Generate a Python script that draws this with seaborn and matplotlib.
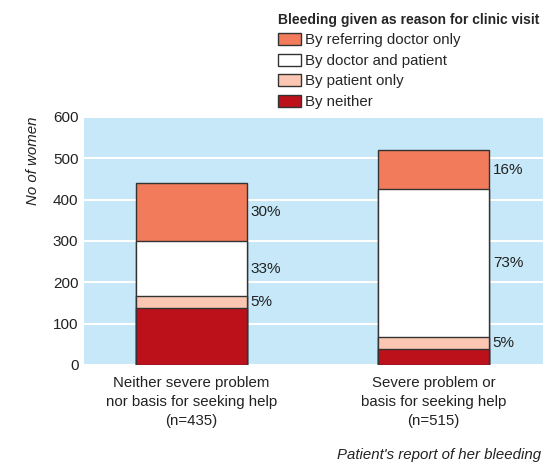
import matplotlib
matplotlib.use("Agg")
import matplotlib.pyplot as plt
import seaborn as sns
import pandas as pd
import numpy as np
from matplotlib.patches import Patch

sns.set_style("white")
plt.rcParams['font.family'] = ['Liberation Sans', 'DejaVu Sans']

categories = ["Neither severe problem\nnor basis for seeking help\n(n=435)",
              "Severe problem or\nbasis for seeking help\n(n=515)"]
series_names = ["By neither", "By patient only", "By doctor and patient", "By referring doctor only"]
by_neither = [137, 39]
by_patient = [29, 29]
by_both = [134, 358]
by_doctor = [141, 93]
pct_labels = [["", "5%", "33%", "30%"], ["", "5%", "73%", "16%"]]
colors = ["#bc111b", "#fcc7b2", "#ffffff", "#f27b5b"]

layers = [by_neither, by_patient, by_both, by_doctor]
cum = np.cumsum(np.array(layers), axis=0)

FS = 10.5
fig = plt.figure(figsize=(5.43, 4.63), dpi=100)
ax = fig.add_axes([84/543, 1-365/463, 1-84/543, (365-117)/463])
ax.set_facecolor("#c6e8f8")

for i in range(3, -1, -1):
    df = pd.DataFrame({"cat": categories, "val": cum[i]})
    sns.barplot(data=df, x="cat", y="val", color=colors[i], saturation=1,
                width=0.459, edgecolor="#333333", linewidth=1.0, ax=ax, zorder=3)

for j in range(2):
    for i in range(1, 4):
        lo = cum[i-1][j]
        hi = cum[i][j]
        ax.text(j + 0.459/2 + 0.015, (lo+hi)/2, pct_labels[j][i], ha="left", va="center",
                fontsize=FS + 0.5, color="#222222")

ax.set_ylim(0, 600)
ax.set_xlim(-0.444, 1.452)
ax.set_yticks([0, 100, 200, 300, 400, 500, 600])
ax.grid(axis="y", color="white", linewidth=1.5, zorder=0)
ax.set_axisbelow(True)
for s in ax.spines.values():
    s.set_visible(False)
ax.tick_params(axis="both", length=0, labelsize=FS + 0.5, colors="#222222")
ax.tick_params(axis="y", pad=4)
ax.tick_params(axis="x", pad=8)
for t in ax.get_xticklabels():
    t.set_fontsize(FS + 0.3)
    t.set_linespacing(1.45)
ax.set_xlabel("")
ax.set_ylabel("No of women", style="italic", fontsize=FS + 0.3, loc="top", labelpad=9, color="#222222")

fig.text(541/543, 1-455/463, "Patient's report of her bleeding", ha="right", va="center",
         style="italic", fontsize=FS + 0.3, color="#222222")

handles = [Patch(facecolor=colors[i], edgecolor="#333333", label=series_names[i]) for i in [3, 2, 1, 0]]
leg = fig.legend(handles=handles, loc="upper left", bbox_to_anchor=(278/543, 1-13/463),
                 title="Bleeding given as reason for clinic visit", frameon=False,
                 fontsize=FS + 0.3, title_fontproperties={"weight": "bold", "size": FS - 0.5},
                 handlelength=1.55, handleheight=0.85, handletextpad=0.25, labelspacing=0.42,
                 borderaxespad=0, borderpad=0)
leg._legend_box.align = "left"

fig.savefig("out.png", dpi=100)
